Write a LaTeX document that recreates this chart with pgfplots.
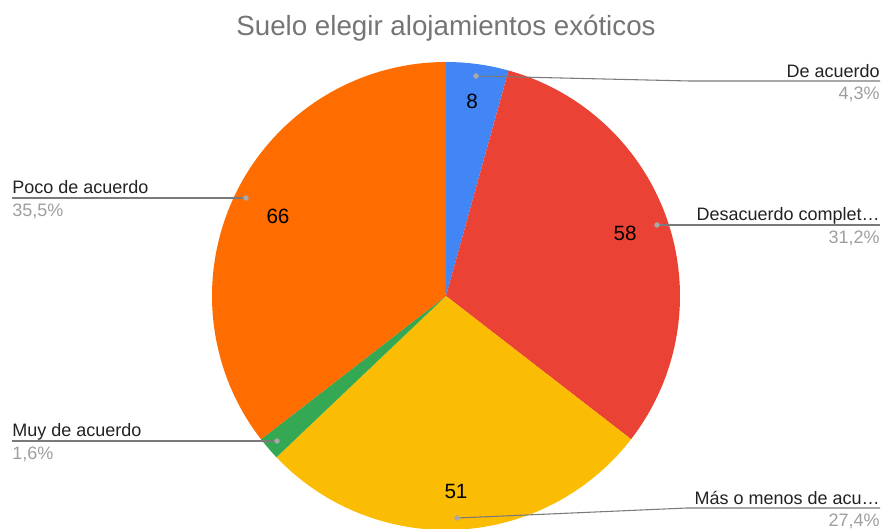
\documentclass[border=0pt]{standalone}
\usepackage{fontspec}
\setmainfont{Liberation Sans}
\usepackage{pgfplots}
\pgfplotsset{compat=1.18}
\definecolor{cBlue}{HTML}{4285F4}
\definecolor{cRed}{HTML}{EA4335}
\definecolor{cYellow}{HTML}{FBBC04}
\definecolor{cGreen}{HTML}{34A853}
\definecolor{cOrange}{HTML}{FF6D01}
\definecolor{cTitle}{HTML}{757575}
\definecolor{cName}{HTML}{222222}
\definecolor{cPct}{HTML}{9E9E9E}
\definecolor{cLine}{HTML}{7A7A7A}
\definecolor{cDot}{HTML}{A8A8A8}
\begin{document}
\begin{tikzpicture}
% values: De acuerdo, Desacuerdo completamente, Mas o menos de acuerdo, Muy de acuerdo, Poco de acuerdo
\pgfmathsetmacro{\tot}{8+58+51+3+66}
\pgfmathsetmacro{\aA}{90}
\pgfmathsetmacro{\aB}{\aA-8/\tot*360}
\pgfmathsetmacro{\aC}{\aB-58/\tot*360}
\pgfmathsetmacro{\aD}{\aC-51/\tot*360}
\pgfmathsetmacro{\aE}{\aD-3/\tot*360}
\pgfmathsetmacro{\aF}{\aE-66/\tot*360}
\begin{axis}[scale only axis, width=662.25pt, height=396.75pt,
  xmin=0, xmax=883, ymin=0, ymax=529, y dir=reverse, hide axis, clip=true]
\addplot[draw=none, fill=cBlue, domain=\aB:\aA, samples=60] ({446+234*cos(x)},{296-234*sin(x)}) -- (axis cs:446,296) -- cycle;
\addplot[draw=none, fill=cRed, domain=\aC:\aB, samples=100] ({446+234*cos(x)},{296-234*sin(x)}) -- (axis cs:446,296) -- cycle;
\addplot[draw=none, fill=cYellow, domain=\aD:\aC, samples=100] ({446+234*cos(x)},{296-234*sin(x)}) -- (axis cs:446,296) -- cycle;
\addplot[draw=none, fill=cGreen, domain=\aE:\aD, samples=20] ({446+234*cos(x)},{296-234*sin(x)}) -- (axis cs:446,296) -- cycle;
\addplot[draw=none, fill=cOrange, domain=\aF:\aE, samples=100] ({446+234*cos(x)},{296-234*sin(x)}) -- (axis cs:446,296) -- cycle;
% leader lines
\addplot[cLine, line width=0.8pt, mark=none] coordinates {(476,76) (690,81) (880,81)};
\addplot[cLine, line width=0.8pt, mark=none] coordinates {(657,225) (880,225)};
\addplot[cLine, line width=0.8pt, mark=none] coordinates {(457,518) (687,508) (880,508)};
\addplot[cLine, line width=0.8pt, mark=none] coordinates {(12,198) (246,198)};
\addplot[cLine, line width=0.8pt, mark=none] coordinates {(12,441) (277,441)};
\addplot[only marks, mark=*, mark size=1.8pt, mark options={draw=cDot, fill=cDot}] coordinates {(476,76) (657,225) (457,518) (246,198) (277,441)};
% title
\node[anchor=center, text=cTitle, font=\fontsize{20.8}{24}\selectfont] at (axis cs:446,28) {Suelo elegir alojamientos exóticos};
% slice values
\node[font=\fontsize{15.5}{18}\selectfont, text=black] at (axis cs:472,101) {8};
\node[font=\fontsize{15.5}{18}\selectfont, text=black] at (axis cs:625,233) {58};
\node[font=\fontsize{15.5}{18}\selectfont, text=black] at (axis cs:456,491) {51};
\node[font=\fontsize{15.5}{18}\selectfont, text=black] at (axis cs:278,216) {66};
% labels
\node[anchor=base east, inner sep=0pt, text=cName, font=\fontsize{13.5}{16}\selectfont] at (axis cs:880,77) {De acuerdo};
\node[anchor=base east, inner sep=0pt, text=cPct, font=\fontsize{13.5}{16}\selectfont] at (axis cs:880,99) {4,3\%};
\node[anchor=base east, inner sep=0pt, text=cName, font=\fontsize{13.5}{16}\selectfont] at (axis cs:880,220) {Desacuerdo complet…};
\node[anchor=base east, inner sep=0pt, text=cPct, font=\fontsize{13.5}{16}\selectfont] at (axis cs:880,243) {31,2\%};
\node[anchor=base east, inner sep=0pt, text=cName, font=\fontsize{13.5}{16}\selectfont] at (axis cs:880,504) {Más o menos de acu…};
\node[anchor=base east, inner sep=0pt, text=cPct, font=\fontsize{13.5}{16}\selectfont] at (axis cs:880,526) {27,4\%};
\node[anchor=base west, inner sep=0pt, text=cName, font=\fontsize{13.5}{16}\selectfont] at (axis cs:12,193) {Poco de acuerdo};
\node[anchor=base west, inner sep=0pt, text=cPct, font=\fontsize{13.5}{16}\selectfont] at (axis cs:12,216) {35,5\%};
\node[anchor=base west, inner sep=0pt, text=cName, font=\fontsize{13.5}{16}\selectfont] at (axis cs:12,436) {Muy de acuerdo};
\node[anchor=base west, inner sep=0pt, text=cPct, font=\fontsize{13.5}{16}\selectfont] at (axis cs:12,459) {1,6\%};
\end{axis}
\path[use as bounding box] (current axis.south west) rectangle (current axis.north east);
\end{tikzpicture}
\end{document}
